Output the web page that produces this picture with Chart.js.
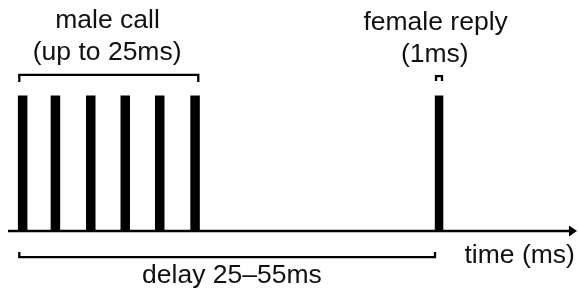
<!DOCTYPE html>
<html>
<head>
<meta charset="utf-8">
<script src="https://cdn.jsdelivr.net/npm/chart.js@4"></script>
<style>
  html, body { margin: 0; padding: 0; background: #fff; }
  #wrap { width: 579px; height: 295px; }
</style>
</head>
<body>
<div id="wrap"><canvas id="chartLlamada" width="579" height="295"></canvas></div>
<script>
// tiempos de los pulsos (ms) y altura relativa
const pulsosMacho = [1.7, 5.5, 9.6, 13.6, 17.6, 21.7];
const pulsosHembra = [50];
const alturaPulso = 5.88;

// corchetes: [x, y] en unidades del eje
const corcheteMacho = [[1.31, 6.47], [1.31, 6.77], [22.07, 6.77], [22.07, 6.47]];
const corcheteHembra = [[49.65, 6.51], [49.65, 6.72], [50.34, 6.72], [50.34, 6.51]];
const corcheteRetardo = [[1.31, -0.86], [1.31, -1.08], [49.53, -1.08], [49.53, -0.86]];

// textos y su posicion (x en ms, y en unidades)
const textos = ['male call', '(up to 25ms)', 'female reply', '(1ms)', 'delay 25–55ms', 'time (ms)'];
const textosX = [11.54, 11.5, 49.6, 49.5, 25.98, 52.95];
const textosY = [8.79, 7.41, 8.71, 7.33, -2.2, -1.34];
const textosAlign = ['center', 'center', 'center', 'center', 'center', 'left'];

const FUENTE = '26.5px "Liberation Sans", Arial, sans-serif';

const aPuntos = arr => arr.map(p => ({ x: p[0], y: p[1] }));

const lineaCorchete = (data) => ({
    type: 'line',
    data: aPuntos(data),
    borderColor: '#000',
    borderWidth: 2.3,
    pointRadius: 0,
    tension: 0,
    fill: false,
    clip: false,
    borderCapStyle: 'butt',
    borderJoinStyle: 'miter'
});

// eje con flecha y textos
const pluginEje = {
    id: 'ejeTiempo',
    afterDatasetsDraw(chart) {
        const { ctx, chartArea, scales } = chart;
        const y0 = scales.y.getPixelForValue(0) - 1;
        ctx.save();
        ctx.strokeStyle = '#000';
        ctx.fillStyle = '#000';
        ctx.lineWidth = 2.5;
        ctx.beginPath();
        ctx.moveTo(chartArea.left, y0);
        ctx.lineTo(chartArea.right - 6, y0);
        ctx.stroke();
        ctx.beginPath();
        ctx.moveTo(chartArea.right, y0);
        ctx.lineTo(chartArea.right - 8, y0 - 5.5);
        ctx.lineTo(chartArea.right - 8, y0 + 5.5);
        ctx.closePath();
        ctx.fill();

        ctx.font = FUENTE;
        ctx.fillStyle = '#111';
        ctx.textBaseline = 'alphabetic';
        textos.forEach((t, i) => {
            ctx.textAlign = textosAlign[i];
            ctx.fillText(t, scales.x.getPixelForValue(textosX[i]), scales.y.getPixelForValue(textosY[i]));
        });
        ctx.restore();
    }
};

new Chart(document.getElementById('chartLlamada'), {
    type: 'bar',
    data: {
        datasets: [
            {
                label: 'male call',
                data: pulsosMacho.map(t => ({ x: t, y: alturaPulso })),
                backgroundColor: '#000',
                grouped: false,
                maxBarThickness: 9.5,
                borderWidth: 0
            },
            {
                label: 'female reply',
                data: pulsosHembra.map(t => ({ x: t, y: alturaPulso })),
                backgroundColor: '#000',
                grouped: false,
                maxBarThickness: 8.5,
                borderWidth: 0
            },
            lineaCorchete(corcheteMacho),
            lineaCorchete(corcheteHembra),
            lineaCorchete(corcheteRetardo)
        ]
    },
    options: {
        responsive: false,
        devicePixelRatio: 1,
        animation: false,
        layout: { padding: { left: 8, right: 2, top: 0, bottom: 63 } },
        plugins: {
            legend: { display: false },
            tooltip: { enabled: false }
        },
        scales: {
            x: { type: 'linear', min: 0, max: 66, offset: false, display: false },
            y: { type: 'linear', min: 0, max: 10, display: false }
        }
    },
    plugins: [pluginEje]
});
</script>
</body>
</html>
